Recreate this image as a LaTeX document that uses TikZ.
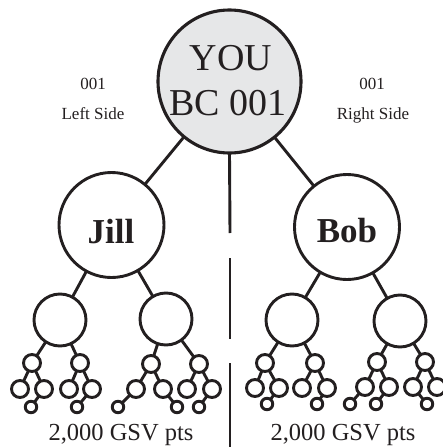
\documentclass[tikz,border=0pt]{standalone}
\usepackage{fontspec}
\setmainfont{Liberation Serif}
\definecolor{ink}{HTML}{231F20}
\definecolor{youfill}{HTML}{E6E7E8}
\tikzset{
  bubble/.style={circle, draw=ink, line width=2.9pt, inner sep=0pt, outer sep=0pt},
  big/.style={bubble, line width=3.1pt, minimum size=143pt, fill=youfill},
  mid/.style={bubble, minimum size=105pt},
  lthree/.style={bubble, minimum size=52pt},
  lfour/.style={bubble, minimum size=17pt},
  lsix/.style={bubble, minimum size=11.5pt},
  link/.style={draw=ink, line width=2.9pt},
  bigtxt/.style={inner sep=0pt, anchor=base, text=ink, font=\fontsize{38}{45}\selectfont},
  nametxt/.style={inner sep=0pt, anchor=base, text=ink, font=\fontsize{35}{40}\selectfont\bfseries},
  sidetxt/.style={inner sep=0pt, anchor=base, text=ink, font=\fontsize{17}{20}\selectfont},
  ptstxt/.style={inner sep=0pt, anchor=base, text=ink, font=\fontsize{24.5}{28}\selectfont},
}
\begin{document}
\begin{tikzpicture}[x=1pt,y=-1pt]
\useasboundingbox (0,0) rectangle (442,447);
% main nodes
\node[big] (you) at (229.5,81.5) {};
\node[bigtxt] (yout) at (231,70) {YOU};
\node[bigtxt] (bct) at (228,115) {BC 001};
\node[mid] (jill) at (111.5,225) {};
\node[nametxt] (jillt) at (111,243) {Jill};
\node[mid] (bob) at (347,227) {};
\node[nametxt] (bobt) at (347,242) {Bob};
% side labels
\node[sidetxt] (l1) at (93,89) {001};
\node[sidetxt] (l2) at (93,119) {Left Side};
\node[sidetxt] (r1) at (372,89) {001};
\node[sidetxt] (r2) at (373,119) {Right Side};
% bottom labels
\node[ptstxt] (pl) at (121,440) {2,000 GSV pts};
\node[ptstxt] (pr) at (343,440) {2,000 GSV pts};
% centre divider
\coordinate (m1) at (230,233);
\coordinate (m2) at (230,258);
\coordinate (m3) at (230,339);
\coordinate (m4) at (230,363);
\coordinate (m5) at (230,447);
\draw[link] (you.south) -- (m1);
\draw[link] (m2) -- (m3);
\draw[link] (m4) -- (m5);
\draw[link] (you) -- (jill);
\draw[link] (you) -- (bob);
% level 3
\node[lthree] (a) at (60,320) {};
\node[lthree] (b) at (166,319) {};
\node[lthree] (c) at (292,320) {};
\node[lthree] (d) at (400,321) {};
\draw[link] (jill) -- (a);
\draw[link] (jill) -- (b);
\draw[link] (bob) -- (c);
\draw[link] (bob) -- (d);
% subtree A
\node[lfour] (a1) at (32,363) {};
\node[lfour] (a2) at (80,363) {};
\node[lfour] (a11) at (20,389) {};
\node[lfour] (a12) at (44,389) {};
\node[lfour] (a21) at (69,389) {};
\node[lfour] (a22) at (92,389) {};
\node[lsix] (a121) at (31,407) {};
\node[lsix] (a221) at (77,407) {};
\draw[link] (a) -- (a1);
\draw[link] (a) -- (a2);
\draw[link] (a1) -- (a11);
\draw[link] (a1) -- (a12);
\draw[link] (a2) -- (a21);
\draw[link] (a2) -- (a22);
\draw[link] (a12) -- (a121);
\draw[link] (a22) -- (a221);
% subtree B
\node[lfour] (b1) at (151,364) {};
\node[lfour] (b2) at (199,364) {};
\node[lfour] (b11) at (136,389) {};
\node[lfour] (b12) at (163,389) {};
\node[lfour] (b21) at (187,389) {};
\node[lfour] (b22) at (212,389) {};
\node[lsix] (b111) at (118,407) {};
\node[lsix] (b121) at (177,407) {};
\node[lsix] (b221) at (199,407) {};
\draw[link] (b) -- (b1);
\draw[link] (b) -- (b2);
\draw[link] (b1) -- (b11);
\draw[link] (b1) -- (b12);
\draw[link] (b2) -- (b21);
\draw[link] (b2) -- (b22);
\draw[link] (b11) -- (b111);
\draw[link] (b12) -- (b121);
\draw[link] (b22) -- (b221);
% subtree C
\node[lfour] (c1) at (265,363) {};
\node[lfour] (c2) at (315,363) {};
\node[lfour] (c11) at (255,388) {};
\node[lfour] (c12) at (279,388) {};
\node[lfour] (c21) at (302,388) {};
\node[lfour] (c22) at (327,388) {};
\node[lsix] (c121) at (267,404) {};
\node[lsix] (c221) at (317,404) {};
\draw[link] (c) -- (c1);
\draw[link] (c) -- (c2);
\draw[link] (c1) -- (c11);
\draw[link] (c1) -- (c12);
\draw[link] (c2) -- (c21);
\draw[link] (c2) -- (c22);
\draw[link] (c12) -- (c121);
\draw[link] (c22) -- (c221);
% subtree D
\node[lfour] (d1) at (377,362) {};
\node[lfour] (d2) at (425,362) {};
\node[lfour] (d11) at (365,387) {};
\node[lfour] (d12) at (389,387) {};
\node[lfour] (d21) at (413,387) {};
\node[lfour] (d22) at (437,387) {};
\node[lsix] (d111) at (350,404) {};
\node[lsix] (d121) at (376,404) {};
\node[lsix] (d211) at (427,404) {};
\draw[link] (d) -- (d1);
\draw[link] (d) -- (d2);
\draw[link] (d1) -- (d11);
\draw[link] (d1) -- (d12);
\draw[link] (d2) -- (d21);
\draw[link] (d2) -- (d22);
\draw[link] (d11) -- (d111);
\draw[link] (d12) -- (d121);
\draw[link] (d21) -- (d211);
\end{tikzpicture}
\end{document}
